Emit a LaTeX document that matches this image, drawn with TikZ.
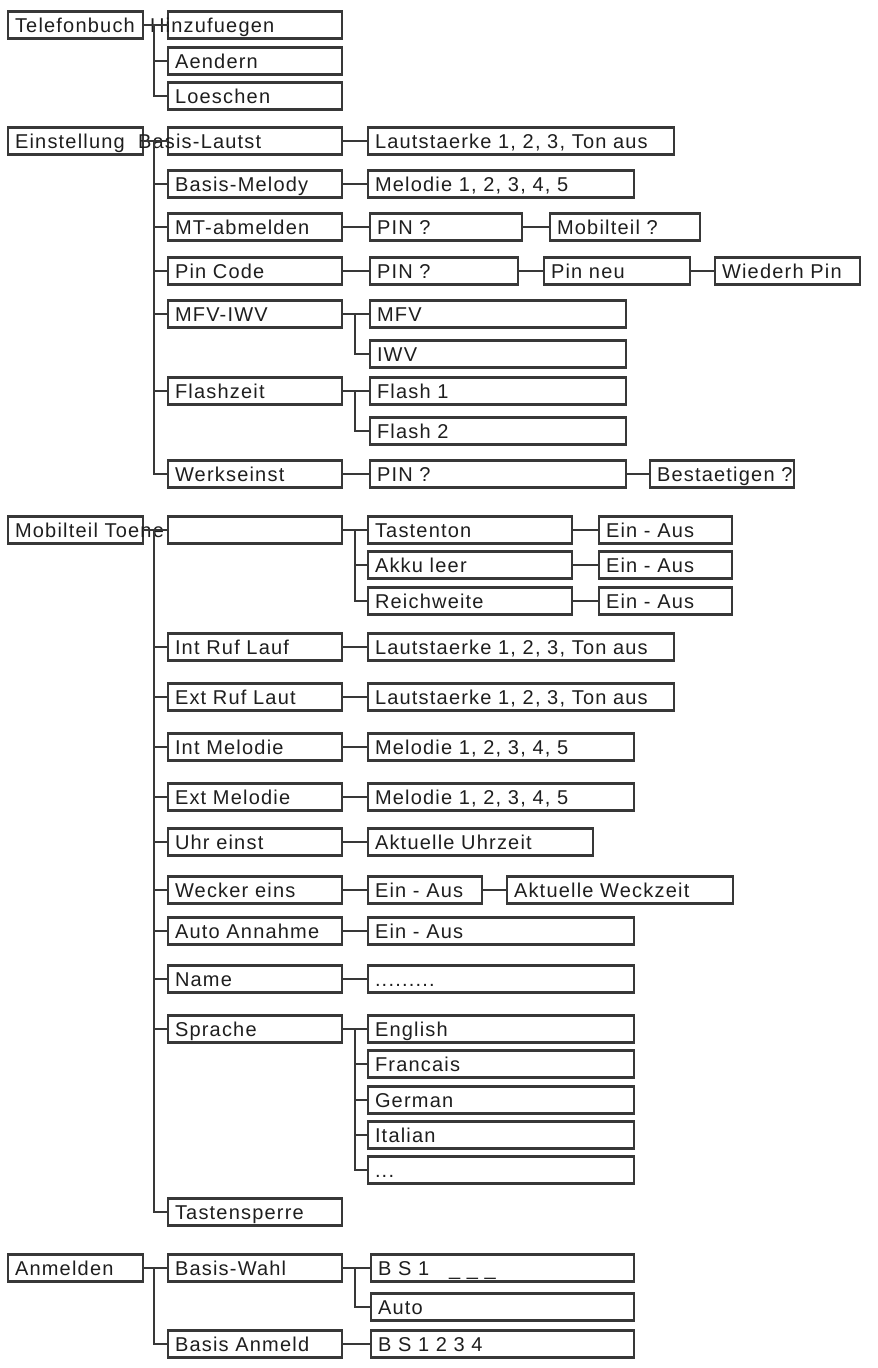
\documentclass[tikz,border=0pt]{standalone}
\usepackage{fontspec}
\usepackage{xcolor}
\usetikzlibrary{positioning}
\newfontfamily\menufont{Liberation Sans}[LetterSpace=6]
\definecolor{bk90}{HTML}{1E1E1E}
\definecolor{bk70}{HTML}{383838}
\tikzset{
  menubox/.style={
    rectangle, draw=bk70, line width=2.6pt, fill=white,
    text width=#1, align=left, text=bk90,
    text height=16.5pt, text depth=2pt,
    inner xsep=7pt, inner ysep=4.25pt, outer sep=0pt,
    font=\menufont\fontsize{20pt}{23pt}\selectfont
  },
  menubox/.default=160pt,
  treeline/.style={draw=bk70, line width=2.4pt},
}
\begin{document}
\begin{tikzpicture}[x=1pt, y=-1pt]
\useasboundingbox (0,0) rectangle (878,1368);
% Telefonbuch
\node[menubox=121pt, anchor=west] (tel) at (8,25) {Telefonbuch};
\node[menubox, right=25pt of tel] (tel-add) {\hspace*{-25pt}Hinzufuegen};
\node[menubox, below=9pt of tel-add] (tel-edit) {Aendern};
\node[menubox, below=8pt of tel-edit] (tel-del) {Loeschen};
\draw[treeline] (tel) -- (tel-add);
\draw[treeline] (tel.east) -- ++(11,0) |- (tel-edit.west);
\draw[treeline] (tel.east) -- ++(11,0) |- (tel-del.west);

% Einstellung
\node[menubox=121pt, anchor=west] (ein) at (8,141) {Einstellung};
\node[menubox, right=25pt of ein] (ein-vol) {\hspace*{-37pt}Basis-Lautst};
\node[menubox, below=16pt of ein-vol] (ein-mel) {Basis-Melody};
\node[menubox, below=16pt of ein-mel] (ein-mt) {MT-abmelden};
\node[menubox, below=17pt of ein-mt] (ein-pin) {Pin Code};
\node[menubox, below=16pt of ein-pin] (ein-dial) {MFV-IWV};
\node[menubox, below=50pt of ein-dial] (ein-flash) {Flashzeit};
\node[menubox, below=56pt of ein-flash] (ein-reset) {Werkseinst};
\node[menubox=292pt, right=26pt of ein-vol] (ein-vol-a) {Lautstaerke 1, 2, 3, Ton aus};
\node[menubox=252pt, right=26pt of ein-mel] (ein-mel-a) {Melodie 1, 2, 3, 4, 5};
\node[menubox=138pt, right=28pt of ein-mt] (ein-mt-a) {PIN ?};
\node[menubox=136pt, right=28pt of ein-mt-a] (ein-mt-b) {Mobilteil ?};
\node[menubox=134pt, right=28pt of ein-pin] (ein-pin-a) {PIN ?};
\node[menubox=132pt, right=26pt of ein-pin-a] (ein-pin-b) {Pin neu};
\node[menubox=131pt, right=25pt of ein-pin-b] (ein-pin-c) {Wiederh Pin};
\node[menubox=242pt, right=28pt of ein-dial] (ein-dial-a) {MFV};
\node[menubox=242pt, below=13pt of ein-dial-a] (ein-dial-b) {IWV};
\node[menubox=242pt, right=28pt of ein-flash] (ein-flash-a) {Flash 1};
\node[menubox=242pt, below=13pt of ein-flash-a] (ein-flash-b) {Flash 2};
\node[menubox=242pt, right=28pt of ein-reset] (ein-reset-a) {PIN ?};
\node[menubox=130pt, right=24pt of ein-reset-a] (ein-reset-b) {\mbox{Bestaetigen ?}};
\draw[treeline] (ein) -- (ein-vol);
\draw[treeline] (ein.east) -- ++(11,0) |- (ein-mel.west);
\draw[treeline] (ein.east) -- ++(11,0) |- (ein-mt.west);
\draw[treeline] (ein.east) -- ++(11,0) |- (ein-pin.west);
\draw[treeline] (ein.east) -- ++(11,0) |- (ein-dial.west);
\draw[treeline] (ein.east) -- ++(11,0) |- (ein-flash.west);
\draw[treeline] (ein.east) -- ++(11,0) |- (ein-reset.west);
\draw[treeline] (ein-vol) -- (ein-vol-a);
\draw[treeline] (ein-mel) -- (ein-mel-a);
\draw[treeline] (ein-mt) -- (ein-mt-a);
\draw[treeline] (ein-mt-a) -- (ein-mt-b);
\draw[treeline] (ein-pin) -- (ein-pin-a);
\draw[treeline] (ein-pin-a) -- (ein-pin-b);
\draw[treeline] (ein-pin-b) -- (ein-pin-c);
\draw[treeline] (ein-dial) -- (ein-dial-a);
\draw[treeline] (ein-dial.east) -- ++(13,0) |- (ein-dial-b.west);
\draw[treeline] (ein-flash) -- (ein-flash-a);
\draw[treeline] (ein-flash.east) -- ++(13,0) |- (ein-flash-b.west);
\draw[treeline] (ein-reset) -- (ein-reset-a);
\draw[treeline] (ein-reset-a) -- (ein-reset-b);

% Mobilteil Toene
\node[menubox=121pt, anchor=west] (mob) at (8,530) {\mbox{Mobilteil Toene}};
\node[menubox, right=25pt of mob] (mob-sig) {};
\node[menubox, below=90pt of mob-sig] (mob-int) {Int Ruf Lauf};
\node[menubox, below=23pt of mob-int] (mob-ext) {Ext Ruf Laut};
\node[menubox, below=23pt of mob-ext] (mob-imel) {Int Melodie};
\node[menubox, below=23pt of mob-imel] (mob-emel) {Ext Melodie};
\node[menubox, below=18pt of mob-emel] (mob-clock) {Uhr einst};
\node[menubox, below=21pt of mob-clock] (mob-alarm) {Wecker eins};
\node[menubox, below=14pt of mob-alarm] (mob-auto) {Auto Annahme};
\node[menubox, below=21pt of mob-auto] (mob-name) {Name};
\node[menubox, below=23pt of mob-name] (mob-lang) {Sprache};
\node[menubox, below=156pt of mob-lang] (mob-lock) {Tastensperre};
\node[menubox=190pt, right=26pt of mob-sig] (mob-key) {Tastenton};
\node[menubox=190pt, below=8pt of mob-key] (mob-batt) {Akku leer};
\node[menubox=190pt, below=9pt of mob-batt] (mob-range) {Reichweite};
\node[menubox=119pt, right=27pt of mob-key] (mob-key-a) {Ein - Aus};
\node[menubox=119pt, right=27pt of mob-batt] (mob-batt-a) {Ein - Aus};
\node[menubox=119pt, right=27pt of mob-range] (mob-range-a) {Ein - Aus};
\node[menubox=292pt, right=26pt of mob-int] (mob-int-a) {Lautstaerke 1, 2, 3, Ton aus};
\node[menubox=292pt, right=26pt of mob-ext] (mob-ext-a) {Lautstaerke 1, 2, 3, Ton aus};
\node[menubox=252pt, right=26pt of mob-imel] (mob-imel-a) {Melodie 1, 2, 3, 4, 5};
\node[menubox=252pt, right=26pt of mob-emel] (mob-emel-a) {Melodie 1, 2, 3, 4, 5};
\node[menubox=211pt, right=26pt of mob-clock] (mob-clock-a) {Aktuelle Uhrzeit};
\node[menubox=100pt, right=26pt of mob-alarm] (mob-alarm-a) {Ein - Aus};
\node[menubox=212pt, right=25pt of mob-alarm-a] (mob-alarm-b) {Aktuelle Weckzeit};
\node[menubox=252pt, right=26pt of mob-auto] (mob-auto-a) {Ein - Aus};
\node[menubox=252pt, right=26pt of mob-name] (mob-name-a) {.........};
\node[menubox=252pt, right=26pt of mob-lang] (mob-lang-a) {English};
\node[menubox=252pt, below=8pt of mob-lang-a] (mob-lang-b) {Francais};
\node[menubox=252pt, below=9pt of mob-lang-b] (mob-lang-c) {German};
\node[menubox=252pt, below=8pt of mob-lang-c] (mob-lang-d) {Italian};
\node[menubox=252pt, below=8pt of mob-lang-d] (mob-lang-e) {...};
\draw[treeline] (mob) -- (mob-sig);
\draw[treeline] (mob.east) -- ++(11,0) |- (mob-int.west);
\draw[treeline] (mob.east) -- ++(11,0) |- (mob-ext.west);
\draw[treeline] (mob.east) -- ++(11,0) |- (mob-imel.west);
\draw[treeline] (mob.east) -- ++(11,0) |- (mob-emel.west);
\draw[treeline] (mob.east) -- ++(11,0) |- (mob-clock.west);
\draw[treeline] (mob.east) -- ++(11,0) |- (mob-alarm.west);
\draw[treeline] (mob.east) -- ++(11,0) |- (mob-auto.west);
\draw[treeline] (mob.east) -- ++(11,0) |- (mob-name.west);
\draw[treeline] (mob.east) -- ++(11,0) |- (mob-lang.west);
\draw[treeline] (mob.east) -- ++(11,0) |- (mob-lock.west);
\draw[treeline] (mob-sig) -- (mob-key);
\draw[treeline] (mob-sig.east) -- ++(13,0) |- (mob-batt.west);
\draw[treeline] (mob-sig.east) -- ++(13,0) |- (mob-range.west);
\draw[treeline] (mob-key) -- (mob-key-a);
\draw[treeline] (mob-batt) -- (mob-batt-a);
\draw[treeline] (mob-range) -- (mob-range-a);
\draw[treeline] (mob-int) -- (mob-int-a);
\draw[treeline] (mob-ext) -- (mob-ext-a);
\draw[treeline] (mob-imel) -- (mob-imel-a);
\draw[treeline] (mob-emel) -- (mob-emel-a);
\draw[treeline] (mob-clock) -- (mob-clock-a);
\draw[treeline] (mob-alarm) -- (mob-alarm-a);
\draw[treeline] (mob-alarm-a) -- (mob-alarm-b);
\draw[treeline] (mob-auto) -- (mob-auto-a);
\draw[treeline] (mob-name) -- (mob-name-a);
\draw[treeline] (mob-lang) -- (mob-lang-a);
\draw[treeline] (mob-lang.east) -- ++(13,0) |- (mob-lang-b.west);
\draw[treeline] (mob-lang.east) -- ++(13,0) |- (mob-lang-c.west);
\draw[treeline] (mob-lang.east) -- ++(13,0) |- (mob-lang-d.west);
\draw[treeline] (mob-lang.east) -- ++(13,0) |- (mob-lang-e.west);

% Anmelden
\node[menubox=121pt, anchor=west] (anm) at (8,1268) {Anmelden};
\node[menubox, right=25pt of anm] (anm-sel) {Basis-Wahl};
\node[menubox, below=49pt of anm-sel] (anm-reg) {Basis Anmeld};
\node[menubox=249pt, right=29pt of anm-sel] (anm-sel-a) {B S 1\quad\_ \_ \_};
\node[menubox=249pt, below=12pt of anm-sel-a] (anm-sel-b) {Auto};
\node[menubox=249pt, right=29pt of anm-reg] (anm-reg-a) {B S 1 2 3 4};
\draw[treeline] (anm) -- (anm-sel);
\draw[treeline] (anm.east) -- ++(11,0) |- (anm-reg.west);
\draw[treeline] (anm-sel) -- (anm-sel-a);
\draw[treeline] (anm-sel.east) -- ++(13,0) |- (anm-sel-b.west);
\draw[treeline] (anm-reg) -- (anm-reg-a);
\end{tikzpicture}
\end{document}
